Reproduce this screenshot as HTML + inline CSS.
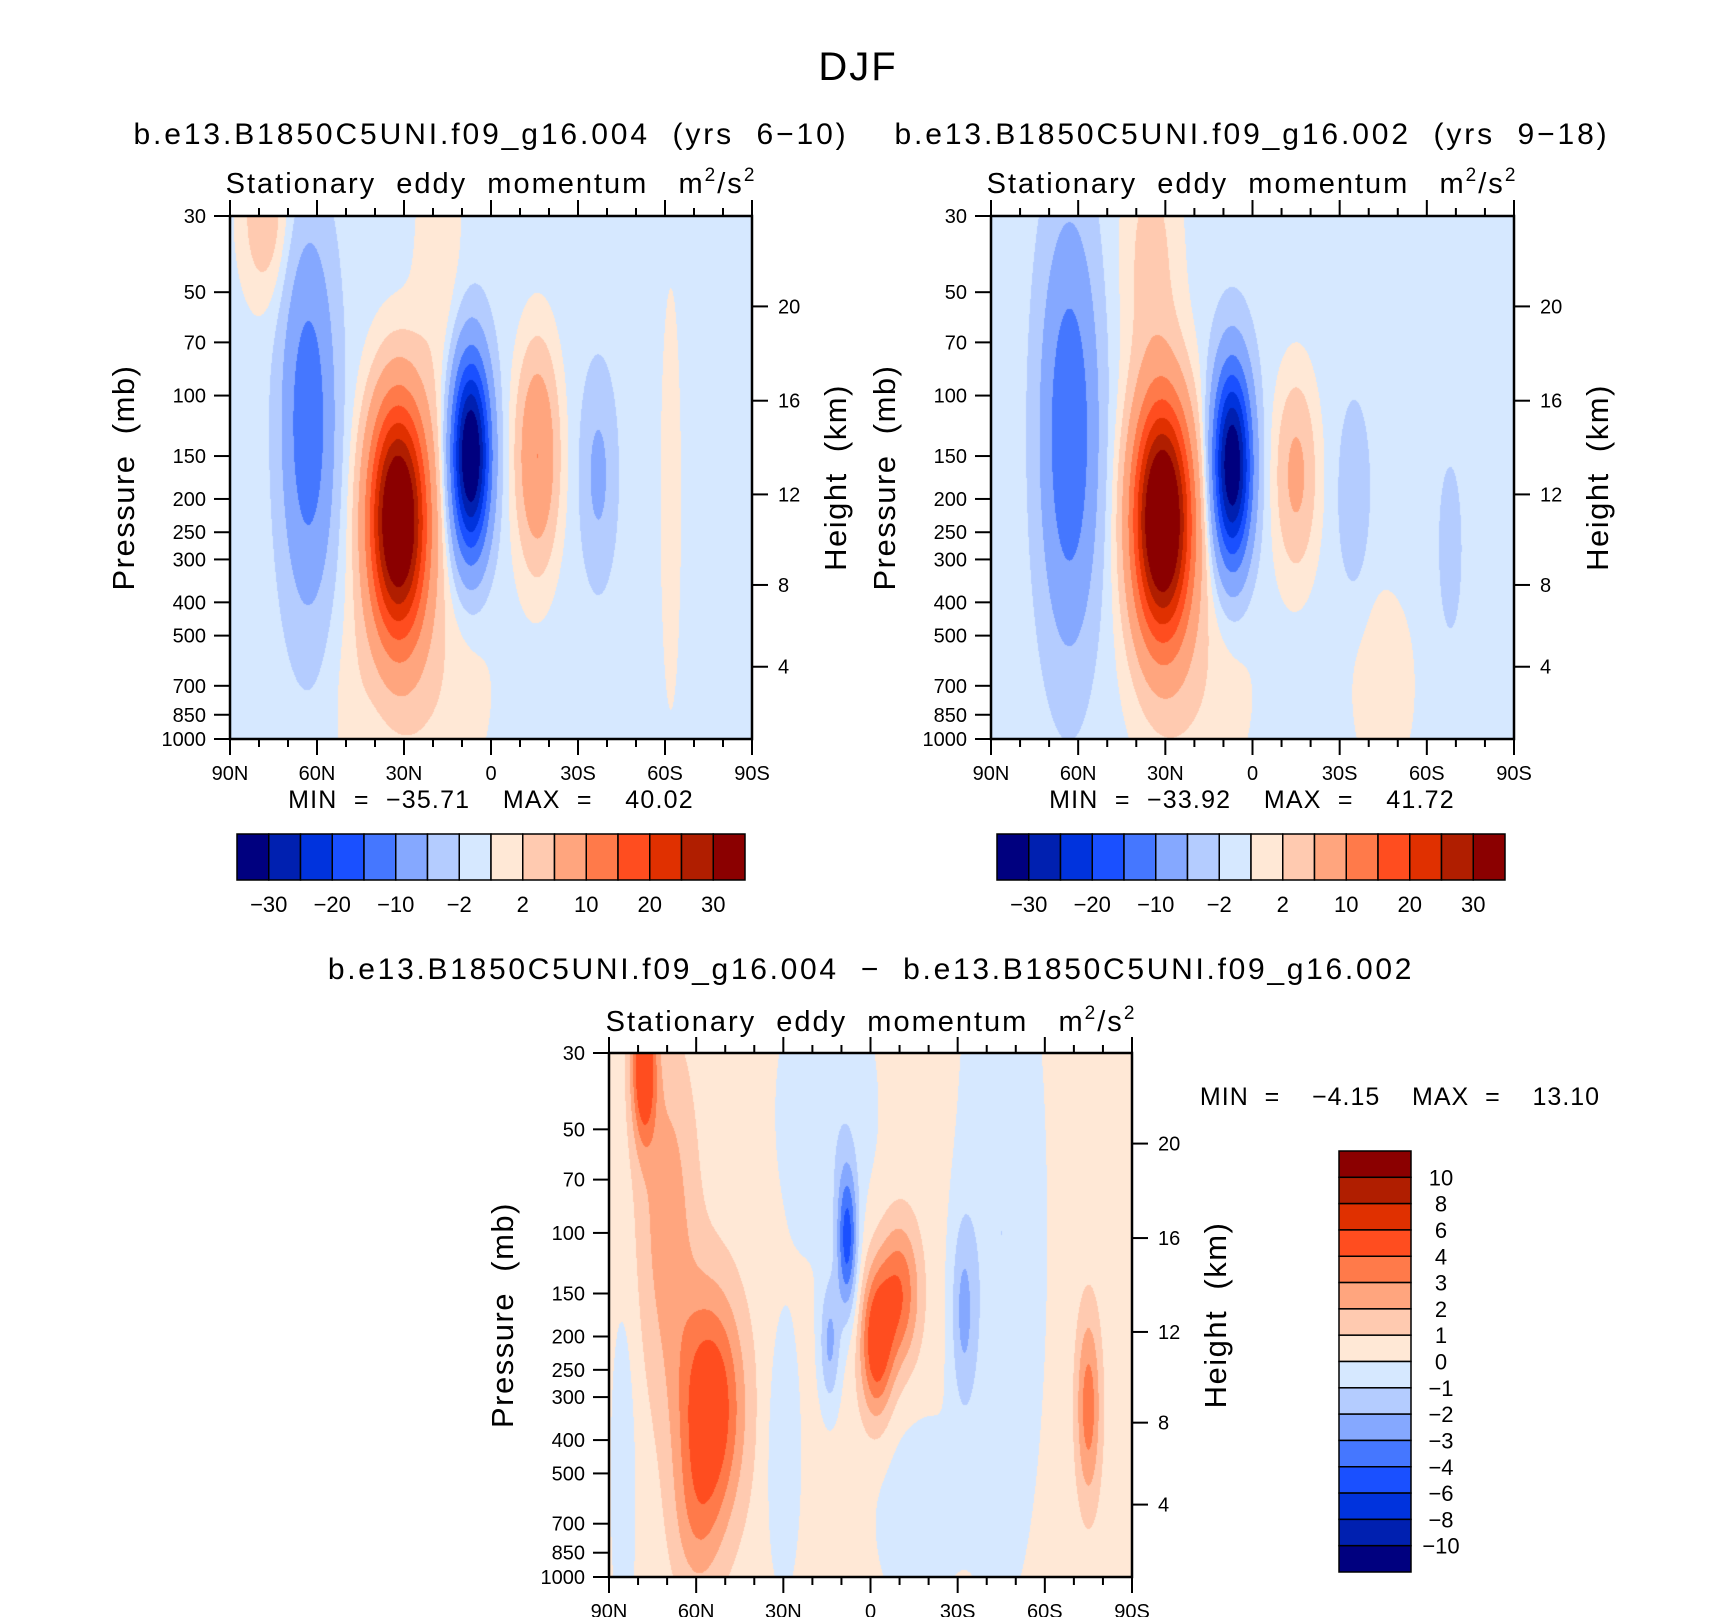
<!DOCTYPE html>
<html><head><meta charset="utf-8">
<style>
html,body{margin:0;padding:0;background:#fff;}
#wrap{position:relative;width:1710px;height:1617px;overflow:hidden;}
canvas{position:absolute;}
svg{position:absolute;left:0;top:0;}
text{font-family:"Liberation Sans",sans-serif;fill:#000;white-space:pre;}
</style></head>
<body>
<div id="wrap">
<canvas id="c1"></canvas>
<canvas id="c2"></canvas>
<canvas id="c3"></canvas>
<svg id="s" width="1710" height="1617"></svg>
</div>
<script>
// ---- data ----
const levelsAbs = [-30,-25,-20,-15,-10,-5,-2,0,2,5,10,15,20,25,30];
const levelsDiff = [-10,-8,-6,-4,-3,-2,-1,0,1,2,3,4,6,8,10];
const colors = ['#00007f','#0020b0','#0033dd','#1a50ff','#4577ff','#85a8ff','#b4ccff','#d6e8ff','#ffe8d6','#ffcab0','#ffa57e','#ff7a4a','#ff4d1f','#e03000','#b01e00','#8b0000'];
const absTickLabels = ['-30','-20','-10','-2','2','10','20','30'];
const absTickEdges = [1,3,5,7,9,11,13,15];
const diffTickLabels = ['10','8','6','4','3','2','1','0','-1','-2','-3','-4','-6','-8','-10'];
const latTicks = [90,60,30,0,-30,-60,-90];
const latTickLabels = ['90N','60N','30N','0','30S','60S','90S'];
const presTicks = [30,50,70,100,150,200,250,300,400,500,700,850,1000];
const heightKm = [4,8,12,16,20];
const heightP = [616,356,194,103.5,55];
// field blobs: lat, pressure, lat width, log-p width, amplitude
const p1Lat=[63,32,7,-16,-37,78,20,-62,18,48];
const p1P=[120,230,150,150,170,30,700,200,40,800];
const p1SLat=[6,7,4.5,5,4,6,15,3,6,5];
const p1SLp=[0.8,0.55,0.45,0.5,0.45,0.4,0.6,1.2,0.8,0.5];
const p1Amp=[-13,42,-37,11,-5,5,2.5,2,2.5,1.5];
const p1Base=-1;
const p2Lat=[63,31,7,-15,-35,-68,35,20,-45];
const p2P=[130,230,160,170,200,280,40,700,700];
const p2SLat=[6.5,7,4.5,5,3.5,2.5,7,15,10];
const p2SLp=[0.9,0.55,0.45,0.45,0.4,0.35,0.6,0.6,0.6];
const p2Amp=[-14,44,-35,7,-4,-3.5,4,2.5,1.8];
const p2Base=-1;
const p3Lat=[15,-45,-15,30,78,70,55,60,-2,-10,-75,8,14,-32,85];
const p3P=[45,100,650,450,33,90,320,700,210,150,320,105,210,170,500];
const p3SLat=[12,10,10,4,3,7,8,6,4,5,3,2.5,2.5,3,3];
const p3SLp=[0.7,1.6,0.5,0.6,0.35,0.8,0.55,0.4,0.35,0.35,0.45,0.35,0.3,0.45,0.8];
const p3Amp=[-1.2,-1.4,-1.0,-1.3,5,2.2,4.8,1.5,4.5,3.5,3.2,-4.5,-2.5,-2.2,-1.2];
const p3Base=0.4;

// ---- layout ----
const panels=[
 {id:'c1',x:230,y:216,w:522,h:523,lat:p1Lat,p:p1P,sl:p1SLat,sp:p1SLp,a:p1Amp,b:p1Base,lev:levelsAbs,nm:'left'},
 {id:'c2',x:991,y:216,w:523,h:523,lat:p2Lat,p:p2P,sl:p2SLat,sp:p2SLp,a:p2Amp,b:p2Base,lev:levelsAbs,nm:'right'},
 {id:'c3',x:609,y:1053,w:523,h:524,lat:p3Lat,p:p3P,sl:p3SLat,sp:p3SLp,a:p3Amp,b:p3Base,lev:levelsDiff,nm:'bottom'}
];
const L30=Math.log(30),L1000=Math.log(1000);
function yOfP(P,pn){return pn.y+(Math.log(P)-L30)/(L1000-L30)*pn.h;}
function xOfLat(lat,pn){return pn.x+(90-lat)/180*pn.w;}
function hex(c){return [parseInt(c.substr(1,2),16),parseInt(c.substr(3,2),16),parseInt(c.substr(5,2),16)];}
const rgb=colors.map(hex);

panels.forEach(pn=>{
 const cv=document.getElementById(pn.id);
 cv.width=pn.w;cv.height=pn.h;cv.style.left=pn.x+'px';cv.style.top=pn.y+'px';
 const ctx=cv.getContext('2d');const img=ctx.createImageData(pn.w,pn.h);
 for(let j=0;j<pn.h;j++){
  const lp=L30+(j+0.5)/pn.h*(L1000-L30);
  for(let i=0;i<pn.w;i++){
   const lat=90-(i+0.5)/pn.w*180;
   let v=pn.b;
   for(let k=0;k<pn.a.length;k++){
    const dx=(lat-pn.lat[k])/pn.sl[k],dy=(lp-Math.log(pn.p[k]))/pn.sp[k];
    v+=pn.a[k]*Math.exp(-(dx*dx+dy*dy)/2);
   }
   let idx=0;while(idx<pn.lev.length&&v>=pn.lev[idx])idx++;
   const c=rgb[idx],o=(j*pn.w+i)*4;
   img.data[o]=c[0];img.data[o+1]=c[1];img.data[o+2]=c[2];img.data[o+3]=255;
  }
 }
 ctx.putImageData(img,0,0);
});

// ---- svg annotations ----
const S=document.getElementById('s');const NS='http://www.w3.org/2000/svg';
function el(tag,attrs,parent){const e=document.createElementNS(NS,tag);for(const k in attrs)e.setAttribute(k,attrs[k]);(parent||S).appendChild(e);return e;}
function txt(x,y,s,size,anchor,name,extra){
 const t=el('text',Object.assign({x:x,y:y,'font-size':size,'text-anchor':anchor||'middle'},extra||{}));
 t.textContent=s;
 
 
 return t;
}
function line(x1,y1,x2,y2,w,name){
 const l=el('line',{x1:x1,y1:y1,x2:x2,y2:y2,stroke:'#000','stroke-width':w});
 
 
 return l;
}
function statTitle(cx,y,name){
 const t=el('text',{x:cx,y:y,'font-size':29,'text-anchor':'middle','letter-spacing':2});
 
 
 t.innerHTML='Stationary  eddy  momentum   m<tspan dy="-12" font-size="19">2</tspan><tspan dy="12">/s</tspan><tspan dy="-12" font-size="19">2</tspan>';
}

txt(858,80,'DJF',40,'middle','figure-title',{'letter-spacing':2});
txt(491,144,'b.e13.B1850C5UNI.f09_g16.004  (yrs  6\u221210)',30,'middle','left-panel-title',{'letter-spacing':2.9});
txt(1252,144,'b.e13.B1850C5UNI.f09_g16.002  (yrs  9\u221218)',30,'middle','right-panel-title',{'letter-spacing':2.9});
txt(871,979,'b.e13.B1850C5UNI.f09_g16.004  \u2212  b.e13.B1850C5UNI.f09_g16.002',30,'middle','difference-panel-title',{'letter-spacing':2.7});
statTitle(491,193,'left-variable-title');
statTitle(1252,193,'right-variable-title');
statTitle(871,1031,'bottom-variable-title');
txt(491,808,'MIN  =  \u221235.71    MAX  =    40.02',25,'middle','left-min-max',{'letter-spacing':1.2});
txt(1252,808,'MIN  =  \u221233.92    MAX  =    41.72',25,'middle','right-min-max',{'letter-spacing':1.2});
txt(1400,1105,'MIN  =    \u22124.15    MAX  =    13.10',25,'middle','bottom-min-max',{'letter-spacing':1});

panels.forEach(pn=>{
 const x0=pn.x,x1=pn.x+pn.w,y0=pn.y,y1=pn.y+pn.h;
 const fr=el('rect',{x:x0,y:y0,width:pn.w,height:pn.h,fill:'none',stroke:'#000','stroke-width':2.5});
 
 
 for(let lat=90;lat>=-90;lat-=10){
  const x=xOfLat(lat,pn);const major=lat%30===0;const len=major?16:8;
  line(x,y0,x,y0-len,2,pn.nm+'-top-tick');
  line(x,y1,x,y1+len,2,pn.nm+'-x-tick');
 }
 latTicks.forEach((lat,i)=>{txt(xOfLat(lat,pn),y1+41,latTickLabels[i],20,'middle',pn.nm+'-x-tick-label');});
 presTicks.forEach(P=>{
  const y=yOfP(P,pn);line(x0,y,x0-16,y,2,pn.nm+'-pressure-tick');
  txt(x0-24,y+7,String(P),20,'end',pn.nm+'-pressure-tick-label');
 });
 heightKm.forEach((km,i)=>{
  const y=yOfP(heightP[i],pn);line(x1,y,x1+16,y,2,pn.nm+'-height-tick');
  txt(x1+26,y+7,String(km),20,'start',pn.nm+'-height-tick-label');
 });
 const ly=y0+pn.h/2;
 txt(x0-107,ly,'Pressure  (mb)',31,'middle',pn.nm+'-y-axis-title',{transform:'rotate(-90 '+(x0-107)+' '+ly+')',dy:11,'letter-spacing':1.5});
 txt(x1+83,ly,'Height  (km)',31,'middle',pn.nm+'-y2-axis-title',{transform:'rotate(-90 '+(x1+83)+' '+ly+')',dy:11,'letter-spacing':1.5});
});

// horizontal colorbars
[[237,'left'],[997,'right']].forEach(([cx,nm])=>{
 const w=508/16,y=834,h=46;
 colors.forEach((c,i)=>{
  const r=el('rect',{x:cx+i*w,y:y,width:w,height:h,fill:c,stroke:'#000','stroke-width':1.5});
  
  
 });
 absTickLabels.forEach((s,i)=>{txt(cx+absTickEdges[i]*w,912,s.replace('-','\u2212'),22,'middle',nm+'-colorbar-label');});
});
// vertical colorbar
(function(){
 const x=1339,w=72,y=1151,h=421/16;
 for(let i=0;i<16;i++){
  const r=el('rect',{x:x,y:y+i*h,width:w,height:h,fill:colors[15-i],stroke:'#000','stroke-width':1.5});
  
  
 }
 diffTickLabels.forEach((s,i)=>{txt(1441,y+(i+1)*h+8,s.replace('-','\u2212'),22,'middle','bottom-colorbar-label');});
})();
</script>
</body></html>
